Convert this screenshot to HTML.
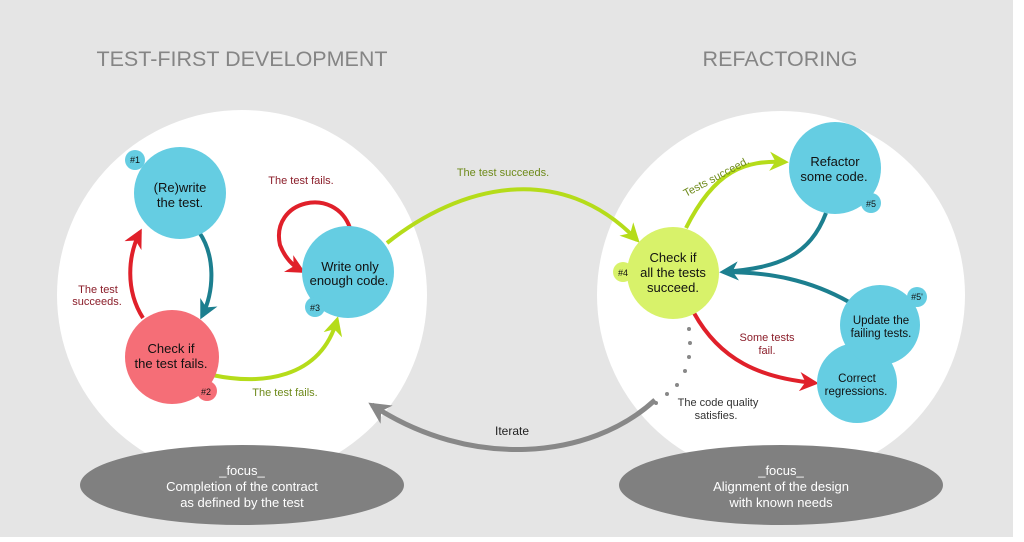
<!DOCTYPE html>
<html><head><meta charset="utf-8"><style>
body{margin:0;width:1024px;height:537px;overflow:hidden;background:#fff;font-family:"Liberation Sans",sans-serif}
</style></head><body>
<svg width="1024" height="537" viewBox="0 0 1024 537" xmlns="http://www.w3.org/2000/svg" font-family="Liberation Sans, sans-serif">
<defs>
<marker id="ar" viewBox="0 0 10 10" refX="8" refY="5" markerWidth="4.8" markerHeight="4.8" orient="auto"><path d="M0,0 L10,5 L0,10 L3,5z" fill="#e0202a"/></marker>
<marker id="ag" viewBox="0 0 10 10" refX="8" refY="5" markerWidth="4.8" markerHeight="4.8" orient="auto"><path d="M0,0 L10,5 L0,10 L3,5z" fill="#b5dc1a"/></marker>
<marker id="at" viewBox="0 0 10 10" refX="8" refY="5" markerWidth="4.8" markerHeight="4.8" orient="auto"><path d="M0,0 L10,5 L0,10 L3,5z" fill="#1c7f8f"/></marker>
<marker id="ay" viewBox="0 0 10 10" refX="8" refY="5" markerWidth="4.4" markerHeight="4.4" orient="auto"><path d="M0,0 L10,5 L0,10 L3,5z" fill="#888"/></marker>
</defs>
<rect x="0" y="0" width="1013" height="537" fill="#e5e5e5"/>
<text x="242" y="66" font-size="21.5" fill="#858585" text-anchor="middle">TEST-FIRST DEVELOPMENT</text>
<text x="780" y="66" font-size="21.5" fill="#858585" text-anchor="middle">REFACTORING</text>
<circle cx="242" cy="295" r="185" fill="#fff"/>
<circle cx="781" cy="295" r="184" fill="#fff"/>
<ellipse cx="242" cy="485" rx="162" ry="40" fill="#808080"/>
<ellipse cx="781" cy="485" rx="162" ry="40" fill="#808080"/>
<g font-size="13" fill="#fff" text-anchor="middle">
<text x="242" y="475">_focus_</text><text x="242" y="491">Completion of the contract</text><text x="242" y="507">as defined by the test</text>
<text x="781" y="475">_focus_</text><text x="781" y="491">Alignment of the design</text><text x="781" y="507">with known needs</text>
</g>
<path d="M655,400 C590,460 470,470 372,405" fill="none" stroke="#888" stroke-width="5" marker-end="url(#ay)"/>
<text x="512" y="435" font-size="12" fill="#222" text-anchor="middle">Iterate</text>
<g fill="#888"><circle cx="689" cy="329" r="2"/><circle cx="690" cy="343" r="2"/><circle cx="689" cy="357" r="2"/><circle cx="685" cy="371" r="2"/><circle cx="677" cy="385" r="2"/><circle cx="667" cy="394" r="2"/><circle cx="656" cy="403" r="2"/></g>
<text x="718" y="406" font-size="11" fill="#333" text-anchor="middle">The code quality</text>
<text x="716" y="419" font-size="11" fill="#333" text-anchor="middle">satisfies.</text>
<path d="M143,318 C125,290 128,255 140,232" fill="none" stroke="#e0202a" stroke-width="4" marker-end="url(#ar)"/>
<path d="M199,232 C215,255 215,290 202,316" fill="none" stroke="#1c7f8f" stroke-width="4" marker-end="url(#at)"/>
<path d="M350,228 C335,185 270,200 280,245 C285,258 293,266 302,271" fill="none" stroke="#e0202a" stroke-width="4" marker-end="url(#ar)"/>
<path d="M212,375 C260,385 320,380 337,320" fill="none" stroke="#b5dc1a" stroke-width="4" marker-end="url(#ag)"/>
<path d="M387,243 C460,185 560,160 637,240" fill="none" stroke="#b5dc1a" stroke-width="4" marker-end="url(#ag)"/>
<path d="M686,228 C715,170 745,160 785,162" fill="none" stroke="#b5dc1a" stroke-width="4" marker-end="url(#ag)"/>
<path d="M826,213 C810,255 780,268 723,272" fill="none" stroke="#1c7f8f" stroke-width="4" marker-end="url(#at)"/>
<path d="M849,302 C810,280 770,272 723,272" fill="none" stroke="#1c7f8f" stroke-width="4"/>
<path d="M694,313 C720,360 760,378 815,383" fill="none" stroke="#e0202a" stroke-width="4" marker-end="url(#ar)"/>
<g font-size="11">
<text x="301" y="184" fill="#8b1e2a" text-anchor="middle">The test fails.</text>
<text x="98" y="293" fill="#8b1e2a" text-anchor="middle">The test</text>
<text x="97" y="305" fill="#8b1e2a" text-anchor="middle">succeeds.</text>
<text x="285" y="396" fill="#6e8a1a" text-anchor="middle">The test fails.</text>
<text x="503" y="176" fill="#6e8a1a" text-anchor="middle">The test succeeds.</text>
<text x="718" y="180" fill="#6e8a1a" text-anchor="middle" transform="rotate(-28 718 180)">Tests succeed.</text>
<text x="767" y="341" fill="#8b1e2a" text-anchor="middle">Some tests</text>
<text x="767" y="354" fill="#8b1e2a" text-anchor="middle">fail.</text>
</g>
<g fill="#65cde2">
<circle cx="180" cy="193" r="46"/><circle cx="135" cy="160" r="10"/>
<circle cx="348" cy="272" r="46"/><circle cx="315" cy="307" r="10"/>
<circle cx="835" cy="168" r="46"/><circle cx="871" cy="203" r="10"/>
<circle cx="857" cy="383" r="40"/>
<circle cx="880" cy="325" r="40"/><circle cx="917" cy="297" r="10"/>
</g>
<circle cx="172" cy="357" r="47" fill="#f56e77"/><circle cx="207" cy="391" r="10" fill="#f56e77"/>
<circle cx="673" cy="273" r="46" fill="#d8f26a"/><circle cx="623" cy="272" r="10" fill="#d8f26a"/>
<g font-size="13" fill="#111" text-anchor="middle">
<text x="180" y="192">(Re)write</text><text x="180" y="207">the test.</text>
<text x="171" y="353">Check if</text><text x="171" y="368">the test fails.</text>
<text x="350" y="271">Write only</text><text x="349" y="285">enough code.</text>
<text x="673" y="262">Check if</text><text x="673" y="277">all the tests</text><text x="673" y="292">succeed.</text>
<text x="835" y="166">Refactor</text><text x="834" y="181">some code.</text>
<g font-size="11.5"><text x="881" y="324">Update the</text><text x="881" y="337">failing tests.</text>
<text x="857" y="382">Correct</text><text x="856" y="395">regressions.</text></g>
</g>
<g font-size="9" fill="#111" text-anchor="middle">
<text x="135" y="163">#1</text><text x="206" y="395">#2</text><text x="315" y="311">#3</text>
<text x="623" y="276">#4</text><text x="871" y="207">#5</text><text x="917" y="300">#5'</text>
</g>
</svg>
</body></html>
